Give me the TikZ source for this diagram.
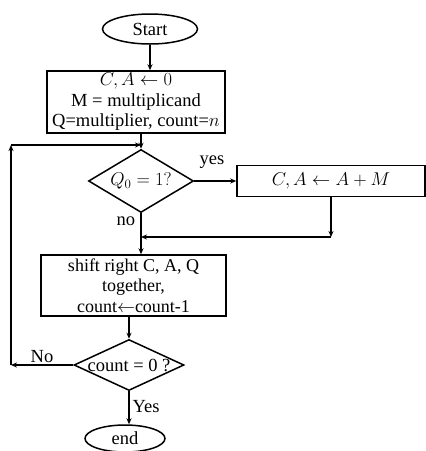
\documentclass[tikz,border=0pt]{standalone}
\usepackage{fix-cm}
\usepackage{fontspec}
\setmainfont{Liberation Serif}
\usetikzlibrary{shapes.geometric,arrows.meta}
\begin{document}
\begin{tikzpicture}[x=1pt,y=-1pt, line width=1.5pt,
  every node/.style={font=\fontsize{18.5}{20.5}\selectfont},
  box/.style={draw, rectangle, inner sep=0pt, align=center},
  dia/.style={draw, diamond, inner sep=0pt},
  ell/.style={draw, ellipse, inner sep=0pt},
  arr/.style={-{Stealth[length=6pt,width=5pt]}},
  lbl/.style={inner sep=0pt}]
\useasboundingbox (0,0) rectangle (426,451);

\node[ell, minimum width=95pt, minimum height=30pt] (start) at (150,29) {Start};
\node[box, minimum width=178pt, minimum height=62pt] (init) at (136,102)
  {$C,A\leftarrow 0$\\ M = multiplicand\\ Q=multiplier, count=$n$};
\node[dia, minimum width=105pt, minimum height=63pt, label={center:$Q_0=1?$}] (q0) at (141,181) {};
\node[box, minimum width=188pt, minimum height=31pt] (add) at (331,181) {$C,A\leftarrow A+M$};
\node[box, minimum width=185pt, minimum height=61pt, font=\fontsize{18}{20.5}\selectfont] (sh) at (133.5,285.5)
  {shift right C, A, Q\\ together,\\ count$\leftarrow$count-1};
\node[dia, minimum width=110pt, minimum height=51pt, label={center:count = 0 ?}] (cnt) at (129,365) {};
\node[ell, minimum width=80pt, minimum height=27pt] (end) at (125,438.5) {end};

\node[lbl] (yes) at (212,162) {yes};
\node[lbl] (no) at (126,221) {no};
\node[lbl] (No) at (42,357) {No};
\node[lbl] (Yes) at (146,407) {Yes};

\coordinate (m) at (0,237);
\coordinate (lx) at (11,0);
\coordinate (ly) at (0,145);

\draw[arr] (start.south) -- (start.south |- init.north);
\draw[arr] (q0.north |- init.south) -- (q0.north);
\draw[arr] (q0.east) -- (add.west);
\draw[arr] (add.south) -- (add.south |- m);
\draw[arr] (add.south |- m) -- (q0.south |- m);
\draw[arr] (q0.south) -- (q0.south |- sh.north);
\draw[arr] (cnt.north |- sh.south) -- (cnt.north);
\draw[arr] (cnt.west) -- (cnt.west -| lx);
\draw[arr] (cnt.west -| lx) -- (lx |- ly);
\draw[arr] (lx |- ly) -- (q0.north |- ly);
\draw[arr] (cnt.south) -- (cnt.south |- end.north);
\end{tikzpicture}
\end{document}
